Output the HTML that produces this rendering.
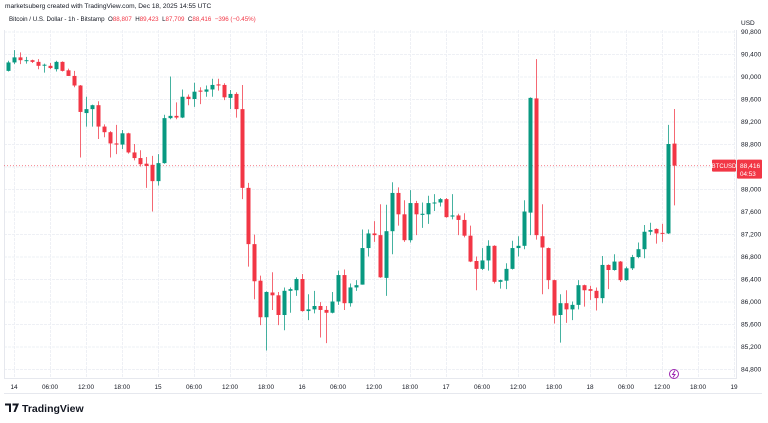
<!DOCTYPE html>
<html><head><meta charset="utf-8"><style>
html,body{margin:0;padding:0;background:#fff;}
body{width:768px;height:423px;overflow:hidden;position:relative;font-family:"Liberation Sans",sans-serif;}
.hdr{position:absolute;left:5px;top:3px;font-size:6.6px;color:#131722;white-space:nowrap;}
.leg{position:absolute;left:9px;top:16px;font-size:6.2px;color:#131722;white-space:nowrap;}
.leg .r{color:#f23645;}
</style></head><body>
<div class="hdr">marketsuberg created with TradingView.com, Dec 18, 2025 14:55 UTC</div>
<div class="leg">Bitcoin / U.S. Dollar - 1h - Bitstamp &nbsp;O<span class="r">88,807</span> &nbsp;H<span class="r">89,423</span> &nbsp;L<span class="r">87,709</span> &nbsp;C<span class="r">88,416</span> &nbsp;<span class="r">−396 (−0.45%)</span></div>
<svg id="chart" width="768" height="423" style="position:absolute;left:0;top:0"></svg>
<script>
const opens=[90100,90250,90340,90280,90290,90260,90200,90190,90130,90260,90110,90010,89840,89350,89420,89490,89110,89010,88810,88790,88990,88650,88550,88450,88430,88140,88460,89260,89300,89270,89640,89600,89750,89730,89770,89860,89850,89620,89690,89420,88020,87020,86370,85720,86160,86110,85760,86190,86200,86400,85830,85860,85920,85850,85800,86000,86470,85970,86250,86300,86950,87210,87180,86420,87250,87930,87550,87090,87750,87540,87550,87750,87760,87820,87510,87530,87450,87170,86720,86580,86730,86990,86350,86370,86580,86950,86990,87580,89610,87160,86950,86380,85760,85970,85860,85940,86290,86220,86190,86060,86650,86560,86710,86380,86590,86790,86930,87240,87290,87220,87210,88807];
const highs=[90280,90470,90430,90350,90300,90310,90230,90240,90280,90270,90140,90100,89850,89640,89500,89560,89150,89030,89140,89050,89000,88800,88690,88570,88590,88620,89320,90000,89540,89770,89680,89890,89810,89840,89960,89960,89880,89760,89720,89850,88110,87190,86460,86180,86520,86170,86250,86250,86430,86490,86130,86190,85990,85920,86170,86550,86570,86320,86380,87280,87280,87430,87730,87720,88120,88030,87800,87980,87790,87760,87880,87910,87840,87840,87910,87560,87570,87350,86800,86950,87090,87000,86390,86680,87080,87160,87800,89630,90310,87730,86960,86390,86130,86200,86000,86380,86300,86280,86250,86810,86660,86840,86720,86620,86830,87050,87360,87400,87300,87380,89140,89423];
const lows=[90090,90220,90220,90230,90240,90130,90070,90130,90090,90090,90010,89810,88560,89110,89110,88890,88920,88560,88620,88710,88630,88510,88400,88020,87600,88060,88450,89240,89240,89260,89490,89460,89510,89640,89640,89750,89580,89420,89270,87820,86620,86040,85580,85130,85850,85580,85490,85800,86100,85820,85670,85790,85360,85260,85790,85940,85850,85910,86190,86300,86800,87060,86420,86100,86840,87350,87060,87050,87180,87310,87380,87610,87690,87490,87460,87180,87140,86700,86200,86560,86550,86320,86230,86220,86570,86800,86930,87180,87100,86130,86220,85610,85270,85620,85670,85860,85910,86030,85840,85970,86220,86550,86350,86370,86560,86770,86770,87180,87030,87060,87200,87709];
const closes=[90250,90340,90290,90290,90260,90190,90210,90150,90260,90100,90010,89840,89370,89420,89490,89110,89010,88810,88790,88990,88650,88550,88440,88410,88140,88460,89260,89300,89270,89640,89600,89730,89730,89770,89850,89840,89630,89690,89420,88020,87020,86360,85720,86170,86110,85760,86190,86220,86400,85830,85860,85920,85850,85800,86000,86470,85970,86250,86290,86950,87210,87180,86430,87250,87930,87550,87090,87750,87550,87560,87750,87760,87820,87500,87530,87450,87170,86710,86580,86730,86990,86350,86380,86580,86950,86990,87600,89620,87180,86960,86380,85750,85970,85860,85940,86290,86200,86190,86060,86650,86560,86710,86380,86590,86790,86930,87240,87270,87210,87210,88800,88416];
const priceTicks=[90800,90400,90000,89600,89200,88800,88400,88000,87600,87200,86800,86400,86000,85600,85200,84800];
const timeLabels=["14","06:00","12:00","18:00","15","06:00","12:00","18:00","16","06:00","12:00","18:00","17","06:00","12:00","18:00","18","06:00","12:00","18:00","19"];
const lastPrice=88416;

const NS="http://www.w3.org/2000/svg";
const svg=document.getElementById('chart');
const yS=p=>54+(90400-p)*0.05625;
const xS=i=>8+6*i;
const xT=j=>14+36*j;
function mk(t,a){const e=document.createElementNS(NS,t);for(const k in a)e.setAttribute(k,a[k]);svg.appendChild(e);return e;}

priceTicks.forEach(p=>{const l=mk('line',{x1:4,x2:736,y1:yS(p)+.5,y2:yS(p)+.5,stroke:'#eef0f5','stroke-width':1,'stroke-dasharray':'3 1'});

});
timeLabels.forEach((t,j)=>{if(xT(j)>736)return;const l=mk('line',{x1:xT(j)+.5,x2:xT(j)+.5,y1:30,y2:378,stroke:'#eef0f5','stroke-width':1,'stroke-dasharray':'3 1'});

});
const fr=mk('path',{d:'M4.5 30 V378.5 H736.5 V30',fill:'none',stroke:'#e6e8ee','stroke-width':1});


const bl=mk('line',{x1:4,x2:762,y1:393.5,y2:393.5,stroke:'#e6e8ee'});


const lp=mk('line',{x1:4,x2:736,y1:yS(lastPrice),y2:yS(lastPrice),stroke:'#f23645','stroke-width':1,'stroke-dasharray':'1 2',opacity:.6});



for(let i=0;i<opens.length;i++){
  const up=closes[i]>=opens[i];const col=up?'#089981':'#f23645';const x=xS(i);
  const w=mk('line',{x1:x+.5,x2:x+.5,y1:yS(highs[i]),y2:yS(lows[i]),stroke:col,'stroke-width':1,opacity:.75});
  
  
  const t=yS(Math.max(opens[i],closes[i])),b=yS(Math.min(opens[i],closes[i]));
  const r=mk('rect',{x:x-1.5,y:t,width:4,height:Math.max(1,b-t),fill:col});
  
  
}

const ul=mk('text',{x:741,y:25,'font-size':6.5,fill:'#131722','font-family':'Liberation Sans'});ul.textContent='USD';


priceTicks.forEach(p=>{const t=mk('text',{x:741,y:yS(p)+2.5,'font-size':6.6,fill:'#131722','font-family':'Liberation Sans'});t.textContent=p.toLocaleString('en-US');

});
timeLabels.forEach((s,j)=>{const t=mk('text',{x:xT(j),y:389,'font-size':6.4,fill:'#131722','text-anchor':'middle','font-family':'Liberation Sans'});t.textContent=s;

});

const yl=yS(lastPrice);
const b1=mk('rect',{x:712,y:yl-6,width:24,height:12,fill:'#f23645',rx:1});


const b1t=mk('text',{x:724,y:yl+2.5,'font-size':6,fill:'#fff','text-anchor':'middle','font-family':'Liberation Sans'});b1t.textContent='BTCUSD';


const b2=mk('rect',{x:737,y:yl-6,width:25,height:19,fill:'#f23645',rx:1});


const b2t=mk('text',{x:740,y:yl+2.5,'font-size':6.6,fill:'#fff','font-family':'Liberation Sans'});b2t.textContent=lastPrice.toLocaleString('en-US');


const b3t=mk('text',{x:740,y:yl+10.5,'font-size':6.3,fill:'#fff','font-family':'Liberation Sans'});b3t.textContent='04:53';



const ic=mk('circle',{cx:674,cy:374,r:4.5,fill:'#fff',stroke:'#9c27b0','stroke-width':1});


const ip=mk('path',{d:'M675 370.5 L672.5 374.5 H675 L673 377.5',fill:'none',stroke:'#9c27b0','stroke-width':1});



const lg=mk('text',{x:22,y:412,'font-size':10.5,'font-weight':'bold',fill:'#131722','font-family':'Liberation Sans'});lg.textContent='TradingView';


const lm=mk('path',{d:'M5 403.5 H11 V412 H9 V405.5 H5 Z M12.5 403.5 H19 L15.5 412 H13.5 L16 405.5 H12.5 Z',fill:'#131722'});


</script>
</body></html>
